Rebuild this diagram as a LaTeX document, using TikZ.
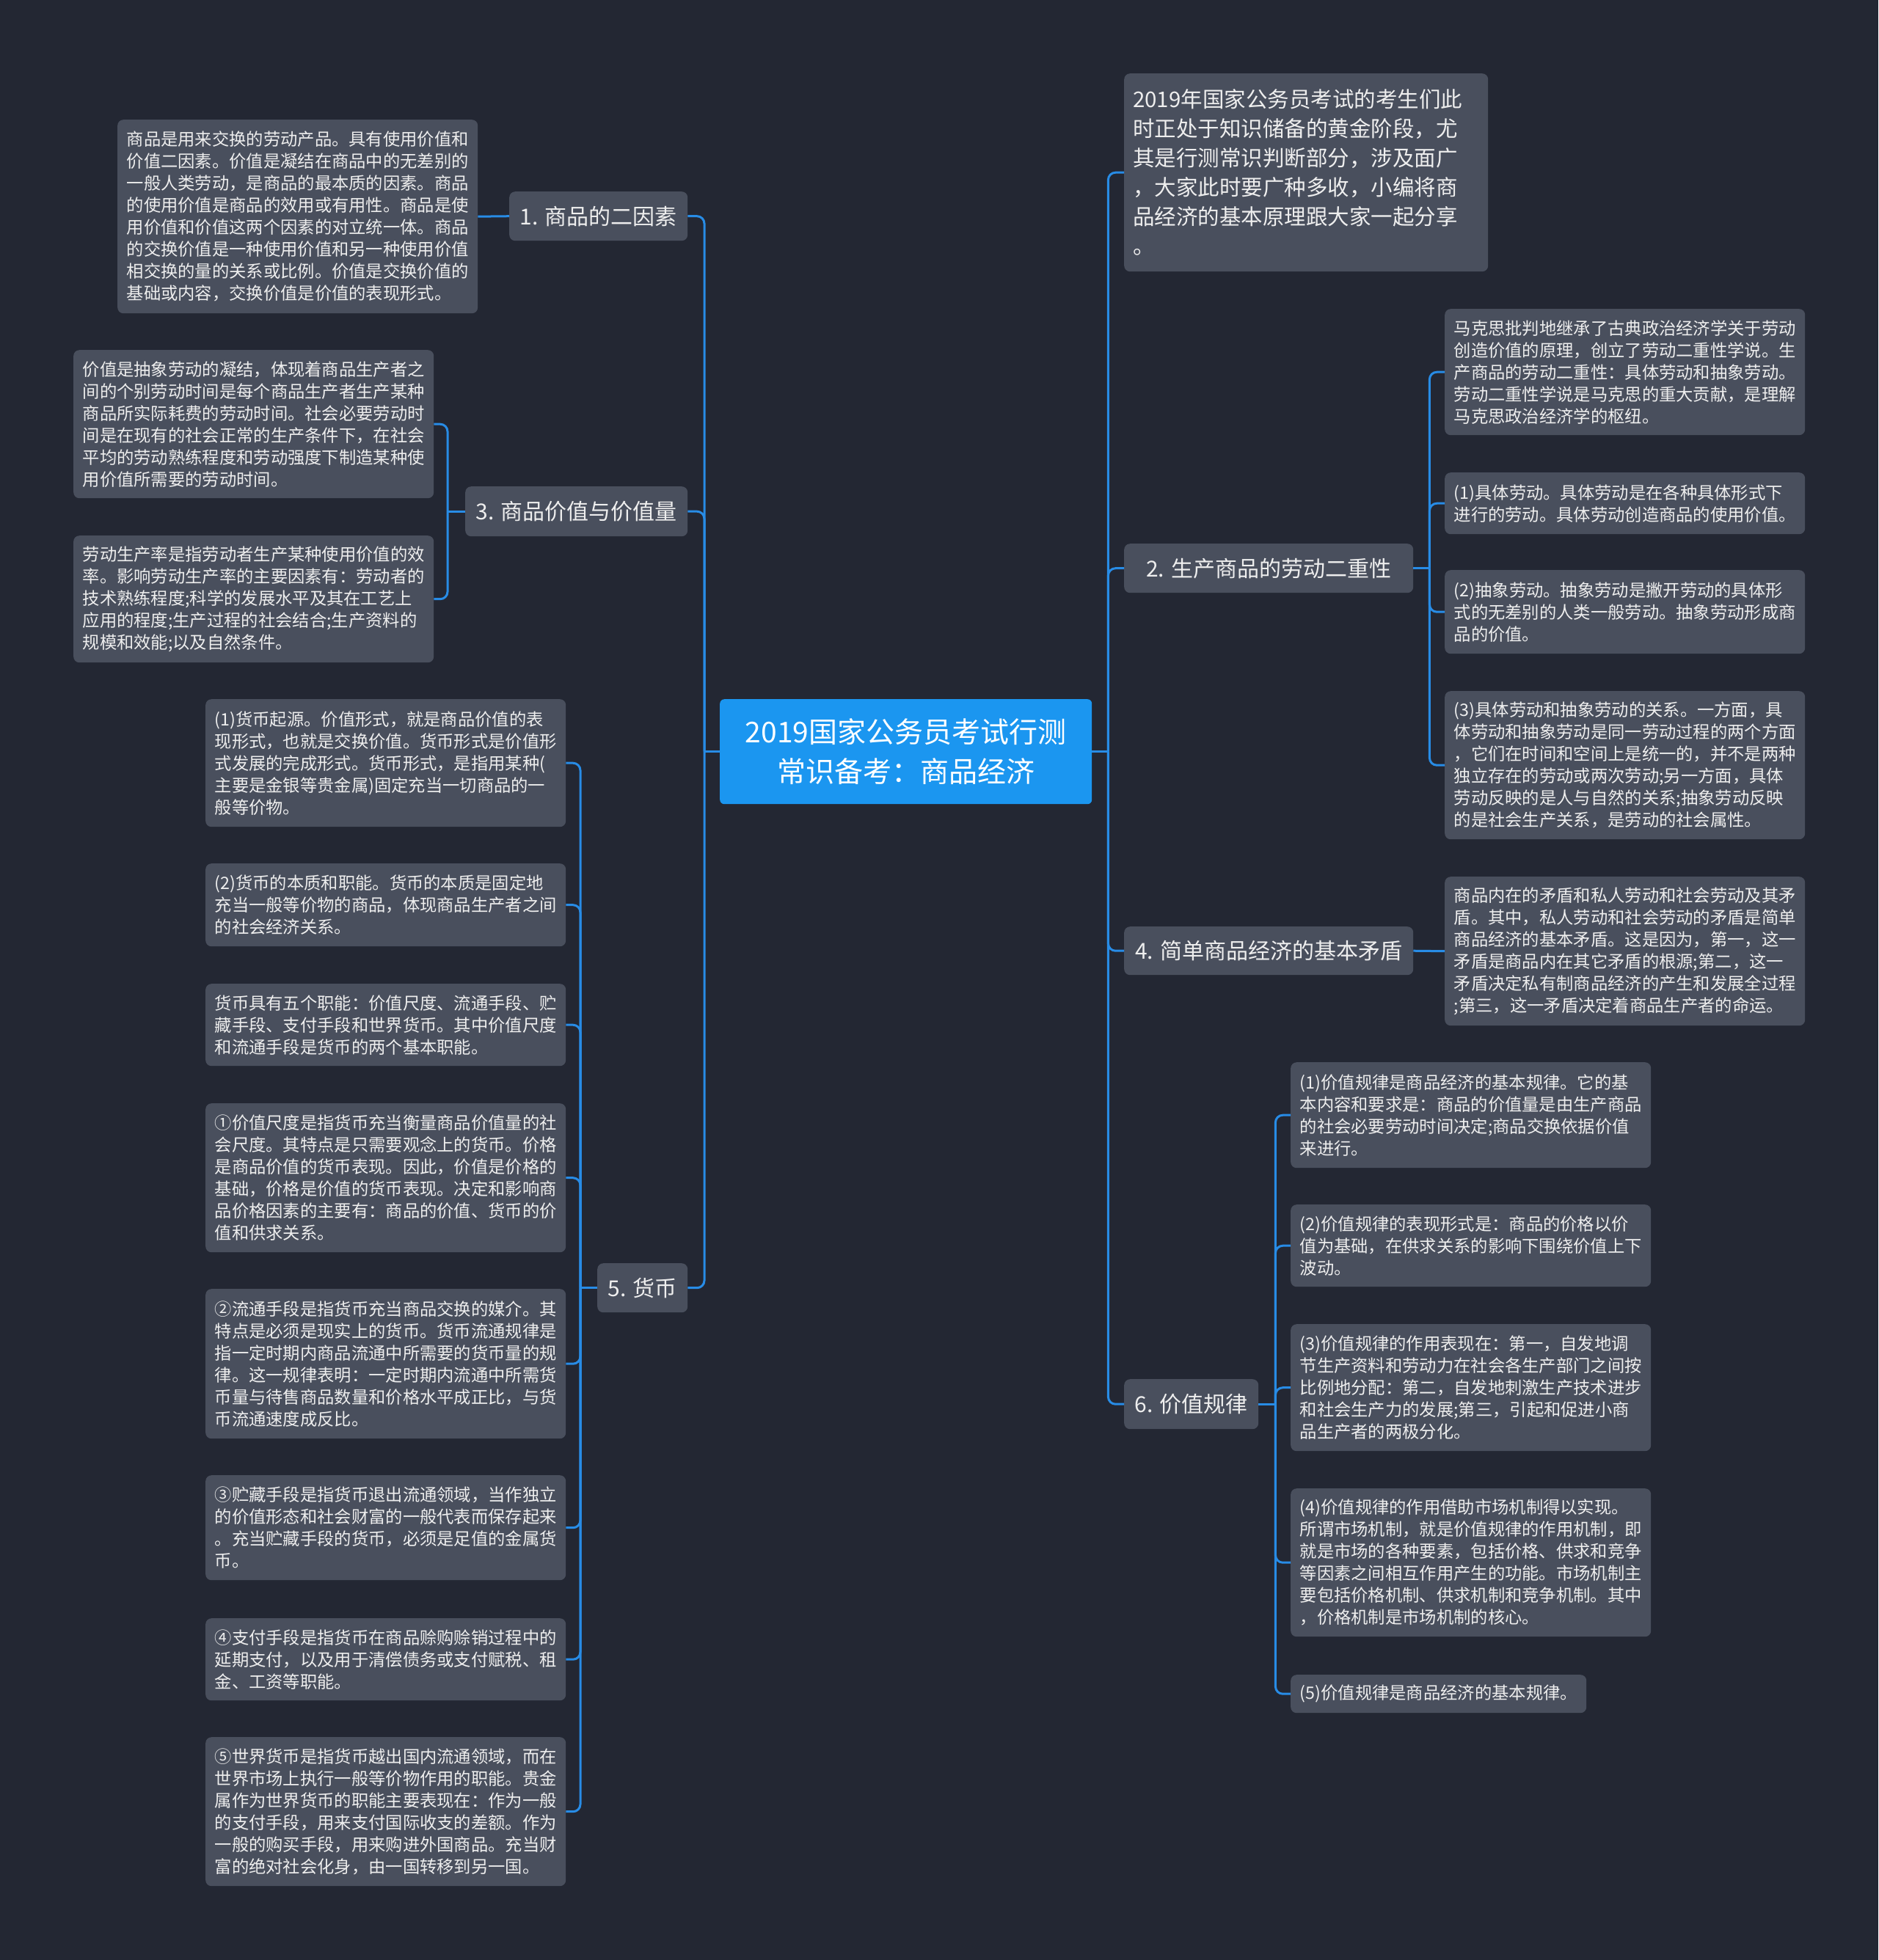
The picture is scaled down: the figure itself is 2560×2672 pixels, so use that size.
\documentclass[tikz,border=0pt]{standalone}
\usepackage{fontspec}
\setmainfont{Noto Sans CJK SC}
\usepackage{xcolor}
\definecolor{mapbg}{RGB}{35,39,51}
\definecolor{mapbox}{RGB}{73,79,93}
\definecolor{mapblue}{RGB}{27,150,240}
\definecolor{mapline}{RGB}{40,140,230}
\definecolor{maptext}{RGB}{238,238,238}

\begin{document}
\begin{tikzpicture}[x=1pt, y=-1pt,
    rootbox/.style={fill=mapblue, text=white, rounded corners=6pt, align=center, anchor=north west, inner sep=0pt, font=\fontsize{39}{54}\selectfont},
    topicbox/.style={fill=mapbox, text=maptext, rounded corners=8pt, anchor=north west, inner sep=0pt, font=\fontsize{30}{36}\selectfont},
    leafbox/.style={fill=mapbox, text=maptext, rounded corners=8pt, anchor=north west, align=left, text width=466pt, inner xsep=12.5pt, inner ysep=0pt, font=\fontsize{23.3}{30}\selectfont},
    introbox/.style={leafbox, text width=472pt, inner xsep=12pt, font=\fontsize{29.5}{40}\selectfont},
    link/.style={draw=mapline, line width=3pt, rounded corners=10pt}]

    % Background
    \fill[mapbg] (0,0) rectangle (2560,2672);

    % Central topic
    \node[rootbox, minimum width=507pt, minimum height=143pt] (root) at (981,953) {2019国家公务员考试行测\\常识备考：商品经济};

    % Left main topics
    \node[topicbox, minimum width=243pt, minimum height=67pt] (t1) at (694,261) {1. 商品的二因素};
    \node[topicbox, minimum width=303pt, minimum height=68pt] (t3) at (634,663) {3. 商品价值与价值量};
    \node[topicbox, minimum width=123pt, minimum height=67pt] (t5) at (814,1722) {5. 货币};

    % Right main topics
    \node[introbox, minimum height=270pt] (intro) at (1532,100) {2019年国家公务员考试的考生们此\\时正处于知识储备的黄金阶段，尤\\其是行测常识判断部分，涉及面广\\，大家此时要广种多收，小编将商\\品经济的基本原理跟大家一起分享\\。};
    \node[topicbox, minimum width=394pt, minimum height=67pt] (t2) at (1532,741) {2. 生产商品的劳动二重性};
    \node[topicbox, minimum width=394pt, minimum height=66pt] (t4) at (1532,1263) {4. 简单商品经济的基本矛盾};
    \node[topicbox, minimum width=183pt, minimum height=68pt] (t6) at (1532,1880) {6. 价值规律};

    % Leaves of 1
    \node[leafbox, minimum height=264pt] (l1) at (160,163) {商品是用来交换的劳动产品。具有使用价值和\\价值二因素。价值是凝结在商品中的无差别的\\一般人类劳动，是商品的最本质的因素。商品\\的使用价值是商品的效用或有用性。商品是使\\用价值和价值这两个因素的对立统一体。商品\\的交换价值是一种使用价值和另一种使用价值\\相交换的量的关系或比例。价值是交换价值的\\基础或内容，交换价值是价值的表现形式。};

    % Leaves of 3
    \node[leafbox, minimum height=202pt] (l3a) at (100,477) {价值是抽象劳动的凝结，体现着商品生产者之\\间的个别劳动时间是每个商品生产者生产某种\\商品所实际耗费的劳动时间。社会必要劳动时\\间是在现有的社会正常的生产条件下，在社会\\平均的劳动熟练程度和劳动强度下制造某种使\\用价值所需要的劳动时间。};
    \node[leafbox, minimum height=173pt] (l3b) at (100,730) {劳动生产率是指劳动者生产某种使用价值的效\\率。影响劳动生产率的主要因素有：劳动者的\\技术熟练程度;科学的发展水平及其在工艺上\\应用的程度;生产过程的社会结合;生产资料的\\规模和效能;以及自然条件。};

    % Leaves of 5
    \node[leafbox, minimum height=174pt] (l5a) at (280,953) {(1)货币起源。价值形式，就是商品价值的表\\现形式，也就是交换价值。货币形式是价值形\\式发展的完成形式。货币形式，是指用某种(\\主要是金银等贵金属)固定充当一切商品的一\\般等价物。};
    \node[leafbox, minimum height=113pt] (l5b) at (280,1177) {(2)货币的本质和职能。货币的本质是固定地\\充当一般等价物的商品，体现商品生产者之间\\的社会经济关系。};
    \node[leafbox, minimum height=112pt] (l5c) at (280,1341) {货币具有五个职能：价值尺度、流通手段、贮\\藏手段、支付手段和世界货币。其中价值尺度\\和流通手段是货币的两个基本职能。};
    \node[leafbox, minimum height=203pt] (l5d) at (280,1504) {①价值尺度是指货币充当衡量商品价值量的社\\会尺度。其特点是只需要观念上的货币。价格\\是商品价值的货币表现。因此，价值是价格的\\基础，价格是价值的货币表现。决定和影响商\\品价格因素的主要有：商品的价值、货币的价\\值和供求关系。};
    \node[leafbox, minimum height=204pt] (l5e) at (280,1757) {②流通手段是指货币充当商品交换的媒介。其\\特点是必须是现实上的货币。货币流通规律是\\指一定时期内商品流通中所需要的货币量的规\\律。这一规律表明：一定时期内流通中所需货\\币量与待售商品数量和价格水平成正比，与货\\币流通速度成反比。};
    \node[leafbox, minimum height=143pt] (l5f) at (280,2011) {③贮藏手段是指货币退出流通领域，当作独立\\的价值形态和社会财富的一般代表而保存起来\\。充当贮藏手段的货币，必须是足值的金属货\\币。};
    \node[leafbox, minimum height=112pt] (l5g) at (280,2206) {④支付手段是指货币在商品赊购赊销过程中的\\延期支付，以及用于清偿债务或支付赋税、租\\金、工资等职能。};
    \node[leafbox, minimum height=203pt] (l5h) at (280,2368) {⑤世界货币是指货币越出国内流通领域，而在\\世界市场上执行一般等价物作用的职能。贵金\\属作为世界货币的职能主要表现在：作为一般\\的支付手段，用来支付国际收支的差额。作为\\一般的购买手段，用来购进外国商品。充当财\\富的绝对社会化身，由一国转移到另一国。};

    % Leaves of 2
    \node[leafbox, minimum height=172pt] (r2a) at (1969,421) {马克思批判地继承了古典政治经济学关于劳动\\创造价值的原理，创立了劳动二重性学说。生\\产商品的劳动二重性：具体劳动和抽象劳动。\\劳动二重性学说是马克思的重大贡献，是理解\\马克思政治经济学的枢纽。};
    \node[leafbox, minimum height=84pt] (r2b) at (1969,644) {(1)具体劳动。具体劳动是在各种具体形式下\\进行的劳动。具体劳动创造商品的使用价值。};
    \node[leafbox, minimum height=114pt] (r2c) at (1969,777) {(2)抽象劳动。抽象劳动是撇开劳动的具体形\\式的无差别的人类一般劳动。抽象劳动形成商\\品的价值。};
    \node[leafbox, minimum height=202pt] (r2d) at (1969,942) {(3)具体劳动和抽象劳动的关系。一方面，具\\体劳动和抽象劳动是同一劳动过程的两个方面\\，它们在时间和空间上是统一的，并不是两种\\独立存在的劳动或两次劳动;另一方面，具体\\劳动反映的是人与自然的关系;抽象劳动反映\\的是社会生产关系，是劳动的社会属性。};

    % Leaf of 4
    \node[leafbox, minimum height=203pt] (r4) at (1969,1195) {商品内在的矛盾和私人劳动和社会劳动及其矛\\盾。其中，私人劳动和社会劳动的矛盾是简单\\商品经济的基本矛盾。这是因为，第一，这一\\矛盾是商品内在其它矛盾的根源;第二，这一\\矛盾决定私有制商品经济的产生和发展全过程\\;第三，这一矛盾决定着商品生产者的命运。};

    % Leaves of 6
    \node[leafbox, minimum height=144pt] (r6a) at (1759,1448) {(1)价值规律是商品经济的基本规律。它的基\\本内容和要求是：商品的价值量是由生产商品\\的社会必要劳动时间决定;商品交换依据价值\\来进行。};
    \node[leafbox, minimum height=112pt] (r6b) at (1759,1642) {(2)价值规律的表现形式是：商品的价格以价\\值为基础，在供求关系的影响下围绕价值上下\\波动。};
    \node[leafbox, minimum height=173pt] (r6c) at (1759,1805) {(3)价值规律的作用表现在：第一，自发地调\\节生产资料和劳动力在社会各生产部门之间按\\比例地分配：第二，自发地刺激生产技术进步\\和社会生产力的发展;第三，引起和促进小商\\品生产者的两极分化。};
    \node[leafbox, minimum height=202pt] (r6d) at (1759,2029) {(4)价值规律的作用借助市场机制得以实现。\\所谓市场机制，就是价值规律的作用机制，即\\就是市场的各种要素，包括价格、供求和竞争\\等因素之间相互作用产生的功能。市场机制主\\要包括价格机制、供求机制和竞争机制。其中\\，价格机制是市场机制的核心。};
    \node[leafbox, text width=378pt, minimum height=52pt] (r6e) at (1759,2283) {(5)价值规律是商品经济的基本规律。};

    % Links from the centre
    \draw[link] (root.west) -- ++(-21,0) coordinate (lj);
    \foreach \nd in {t1,t3,t5} \draw[link] (lj) |- (\nd.east);
    \draw[link] (root.east) -- ++(22,0) coordinate (rj);
    \foreach \nd in {intro,t2,t4,t6} \draw[link] (rj) |- (\nd.west);

    % Links to the leaves
    \draw[link] (t1.west) -- (l1.east);
    \draw[link] (t3.west) -- ++(-24,0) coordinate (j3);
    \foreach \nd in {l3a,l3b} \draw[link] (j3) |- (\nd.east);
    \draw[link] (t5.west) -- ++(-23,0) coordinate (j5);
    \foreach \nd in {l5a,l5b,l5c,l5d,l5e,l5f,l5g,l5h} \draw[link] (j5) |- (\nd.east);
    \draw[link] (t2.east) -- ++(22,0) coordinate (j2);
    \foreach \nd in {r2a,r2b,r2c,r2d} \draw[link] (j2) |- (\nd.west);
    \draw[link] (t4.east) -- (r4.west);
    \draw[link] (t6.east) -- ++(23,0) coordinate (j6);
    \foreach \nd in {r6a,r6b,r6c,r6d,r6e} \draw[link] (j6) |- (\nd.west);
\end{tikzpicture}
\end{document}
